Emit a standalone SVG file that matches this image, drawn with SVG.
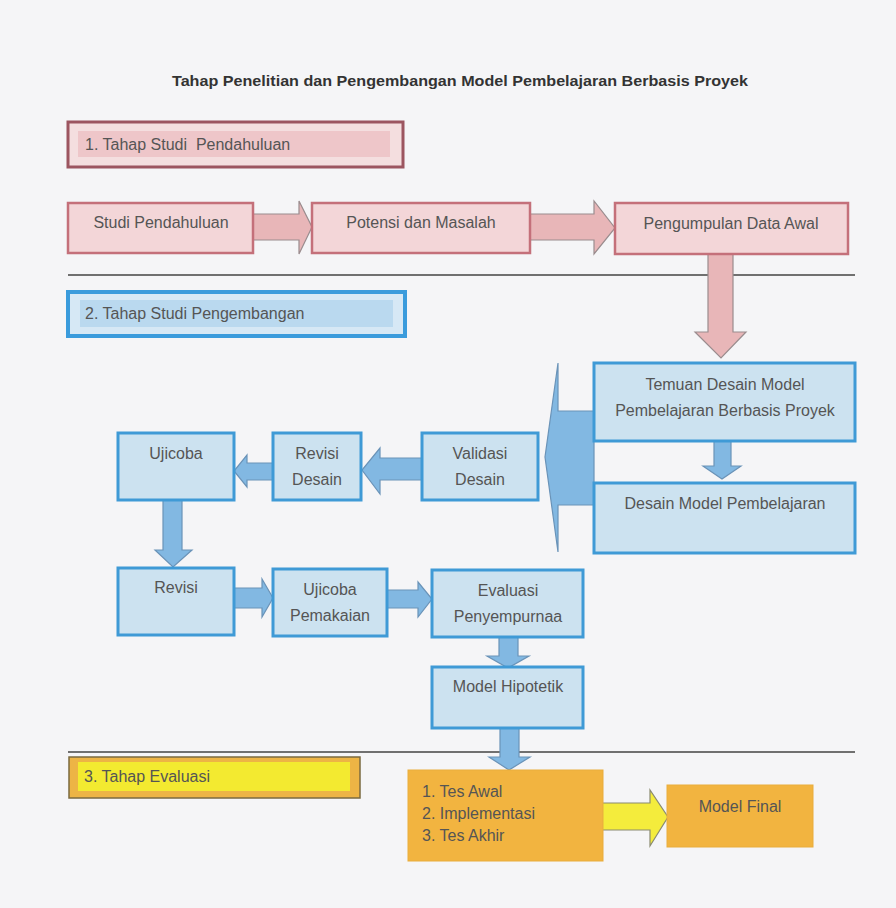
<svg xmlns="http://www.w3.org/2000/svg" width="896" height="908" viewBox="0 0 896 908">
<style>
text{font-family:"Liberation Sans",Arial,sans-serif;font-size:16px;fill:#555}
.title{font-weight:bold;font-size:15px;fill:#333}
.pink{fill:#F3D6D8;stroke:#C4707A;stroke-width:2.5}
.blue{fill:#CCE2F0;stroke:#3F9AD6;stroke-width:3}
.orange{fill:#F2B440;stroke:#E9AD3C;stroke-width:1}
.parrow{fill:#E8B6B8;stroke:#9A8C8E;stroke-width:1.2}
.barrow{fill:#82B8E2;stroke:#6A93B8;stroke-width:1.2}
.yarrow{fill:#F4EC3C;stroke:#8A8A70;stroke-width:1.2}
.divider{stroke:#707070;stroke-width:2}
.c{text-anchor:middle}
</style>
<rect x="0" y="0" width="896" height="908" fill="#F5F5F7"/>
<text class="title c" x="460" y="86" textLength="576" lengthAdjust="spacingAndGlyphs">Tahap Penelitian dan Pengembangan Model Pembelajaran Berbasis Proyek</text>

<g id="lines">
<line class="divider" x1="68" y1="275" x2="855" y2="275"/>
<line class="divider" x1="68" y1="752" x2="855" y2="752"/>
</g>

<g id="stage1">
<rect x="68" y="122" width="335" height="45" fill="#F4DEDF" stroke="#9C5560" stroke-width="3"/>
<rect x="78" y="131" width="312" height="26" fill="#EEC6C9"/>
<text x="85" y="150">1. Tahap Studi &#160;Pendahuluan</text>
</g>
<g id="stage2">
<rect x="68" y="292" width="337" height="44" fill="#D6E8F5" stroke="#3A9BDC" stroke-width="4"/>
<rect x="80" y="300" width="313" height="27" fill="#BAD9EF"/>
<text x="85" y="319" fill="#444">2. Tahap Studi Pengembangan</text>
</g>
<g id="stage3">
<rect x="69" y="757" width="291" height="41" fill="#EDB445" stroke="#7A6A40" stroke-width="1.5"/>
<rect x="78" y="762" width="272" height="29" fill="#F3EA30"/>
<text x="84" y="782" fill="#6B5A20">3. Tahap Evaluasi</text>
</g>

<g id="connectors">
<polygon class="parrow" points="253,214 299,214 299,201 312,227 299,254 299,240 253,240"/>
<polygon class="parrow" points="530,214 594,214 594,201 615,228 594,254 594,240 530,240"/>
<polygon class="parrow" points="708,254 733,254 733,332 746,332 721,358 695,332 708,332"/>
<polygon class="barrow" points="594,411 558,411 558,363 545,457 558,552 558,505 594,505"/>
<polygon class="barrow" points="714,441 731,441 731,466 741,466 722,479 703,466 714,466"/>
<polygon class="barrow" points="422,458 380,458 380,448 362,470 380,494 380,480 422,480"/>
<polygon class="barrow" points="273,463 247,463 247,455 234,471 247,487 247,480 273,480"/>
<polygon class="barrow" points="163,500 182,500 182,550 192,550 173,567 155,550 163,550"/>
<polygon class="barrow" points="234,588 262,588 262,579 273,598 262,617 262,608 234,608"/>
<polygon class="barrow" points="387,590 418,590 418,582 432,599 418,617 418,608 387,608"/>
<polygon class="barrow" points="499,637 518,637 518,656 529,656 508,668 487,656 499,656"/>
<polygon class="barrow" points="500,728 519,728 519,757 530,757 509,770 489,757 500,757"/>
<polygon class="yarrow" points="602,803 650,803 650,790 668,817 650,846 650,830 602,830"/>
</g>

<g id="studi-pendahuluan"><rect class="pink" x="68" y="203" width="185" height="50"/><text class="c" x="161" y="228">Studi Pendahuluan</text></g>
<g id="potensi-masalah"><rect class="pink" x="312" y="203" width="218" height="50"/><text class="c" x="421" y="228">Potensi dan Masalah</text></g>
<g id="pengumpulan-data"><rect class="pink" x="615" y="203" width="233" height="51"/><text class="c" x="731" y="229">Pengumpulan Data Awal</text></g>

<g id="temuan-desain"><rect class="blue" x="594" y="363" width="261" height="78"/><text class="c" x="725" y="390">Temuan Desain Model</text><text class="c" x="725" y="416">Pembelajaran Berbasis Proyek</text></g>
<g id="desain-model"><rect class="blue" x="594" y="483" width="261" height="70"/><text class="c" x="725" y="509">Desain Model Pembelajaran</text></g>
<g id="validasi-desain"><rect class="blue" x="422" y="433" width="116" height="67"/><text class="c" x="480" y="459">Validasi</text><text class="c" x="480" y="485">Desain</text></g>
<g id="revisi-desain"><rect class="blue" x="273" y="433" width="88" height="67"/><text class="c" x="317" y="459">Revisi</text><text class="c" x="317" y="485">Desain</text></g>
<g id="ujicoba"><rect class="blue" x="118" y="433" width="116" height="67"/><text class="c" x="176" y="459">Ujicoba</text></g>
<g id="revisi"><rect class="blue" x="118" y="568" width="116" height="67"/><text class="c" x="176" y="593">Revisi</text></g>
<g id="ujicoba-pemakaian"><rect class="blue" x="273" y="569" width="114" height="67"/><text class="c" x="330" y="595">Ujicoba</text><text class="c" x="330" y="621">Pemakaian</text></g>
<g id="evaluasi"><rect class="blue" x="432" y="570" width="151" height="67"/><text class="c" x="508" y="596">Evaluasi</text><text class="c" x="508" y="622">Penyempurnaa</text></g>
<g id="model-hipotetik"><rect class="blue" x="432" y="667" width="151" height="61"/><text class="c" x="508" y="692">Model Hipotetik</text></g>

<g id="tes"><rect class="orange" x="408" y="770" width="195" height="91"/><text x="422" y="797" fill="#6B5535">1. Tes Awal</text><text x="422" y="819" fill="#6B5535">2. Implementasi</text><text x="422" y="841" fill="#6B5535">3. Tes Akhir</text></g>
<g id="model-final"><rect class="orange" x="667" y="785" width="146" height="62"/><text class="c" x="740" y="812" fill="#6B5535">Model Final</text></g>
</svg>
